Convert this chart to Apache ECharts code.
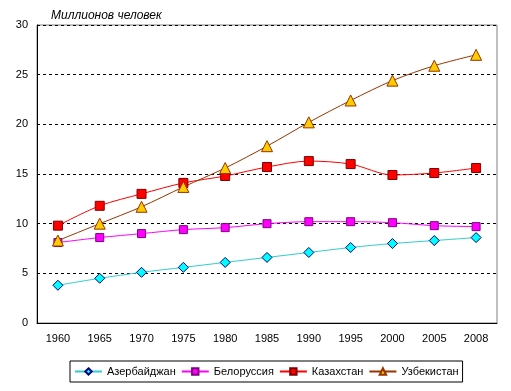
<!DOCTYPE html>
<html><head><meta charset="utf-8">
<script src="https://cdn.jsdelivr.net/npm/echarts@6/dist/echarts.min.js"></script>
<style>html,body{margin:0;padding:0;background:#fff}#c{width:511px;height:391px}</style>
</head><body><div id="c"></div>
<script>
var years = ['1960','1965','1970','1975','1980','1985','1990','1995','2000','2005','2008'];
var azerbaijan = [3.8,4.5,5.1,5.6,6.1,6.6,7.1,7.6,8.0,8.3,8.6];
var belorussia = [8.1,8.6,9.0,9.4,9.6,10.0,10.2,10.2,10.1,9.8,9.7];
var kazakhstan = [9.8,11.8,13.0,14.1,14.8,15.7,16.3,16.0,14.9,15.1,15.6];
var uzbekistan = [8.3,10.0,11.7,13.7,15.6,17.8,20.2,22.4,24.4,25.9,27.0];
var names = ['Азербайджан','Белоруссия','Казахстан','Узбекистан'];
var yTitle = 'Миллионов человек';

var font = 'Liberation Sans, Arial, sans-serif';
function ser(name, data, lineColor, fill, border, symbol, size) {
  return {
    name: name, type: 'line', data: data, smooth: 0.3,
    symbol: symbol, symbolSize: size,
    lineStyle: {color: lineColor, width: 1},
    itemStyle: {color: fill, borderColor: border, borderWidth: 1},
    emphasis: {disabled: true}
  };
}
var chart = echarts.init(document.getElementById('c'), null, {renderer: 'canvas'});
chart.setOption({
  animation: false,
  backgroundColor: '#fff',
  textStyle: {fontFamily: font},
  title: {text: yTitle, left: 46, top: 5, textStyle: {fontSize: 12, fontStyle: 'italic', fontWeight: 'normal', color: '#000', fontFamily: font}},
  grid: {left: 37, right: 14, top: 25, bottom: 68, show: true, borderColor: '#808080', borderWidth: 1},
  xAxis: {
    type: 'category', data: years, boundaryGap: true,
    axisLine: {lineStyle: {color: '#000', width: 1}},
    axisTick: {show: false},
    axisLabel: {color: '#000', fontSize: 11, margin: 10, fontFamily: font}
  },
  yAxis: {
    type: 'value', min: 0, max: 30, interval: 5,
    axisLine: {show: true, lineStyle: {color: '#000', width: 1}},
    axisTick: {show: false},
    axisLabel: {color: '#000', fontSize: 11, margin: 9, fontFamily: font},
    splitLine: {show: true, lineStyle: {color: '#000', type: [3,3], width: 1}}
  },
  legend: {
    bottom: 9, left: 70,
    data: names,
    borderColor: '#000', borderWidth: 1, padding: [5, 4, 5, 4],
    itemWidth: 27, itemHeight: 8, itemGap: 5,
    textStyle: {fontSize: 11, color: '#000', fontFamily: font}
  },
  series: [
    ser(names[0], azerbaijan, '#33CCCC', '#00FFFF', '#000080', 'diamond', 10),
    ser(names[1], belorussia, '#FF00FF', '#FF00FF', '#800080', 'rect', 8),
    ser(names[2], kazakhstan, '#FF0000', '#FF0000', '#800000', 'rect', 9),
    ser(names[3], uzbekistan, '#993300', '#FFCC00', '#993300', 'triangle', 11)
  ]
});
</script></body></html>
